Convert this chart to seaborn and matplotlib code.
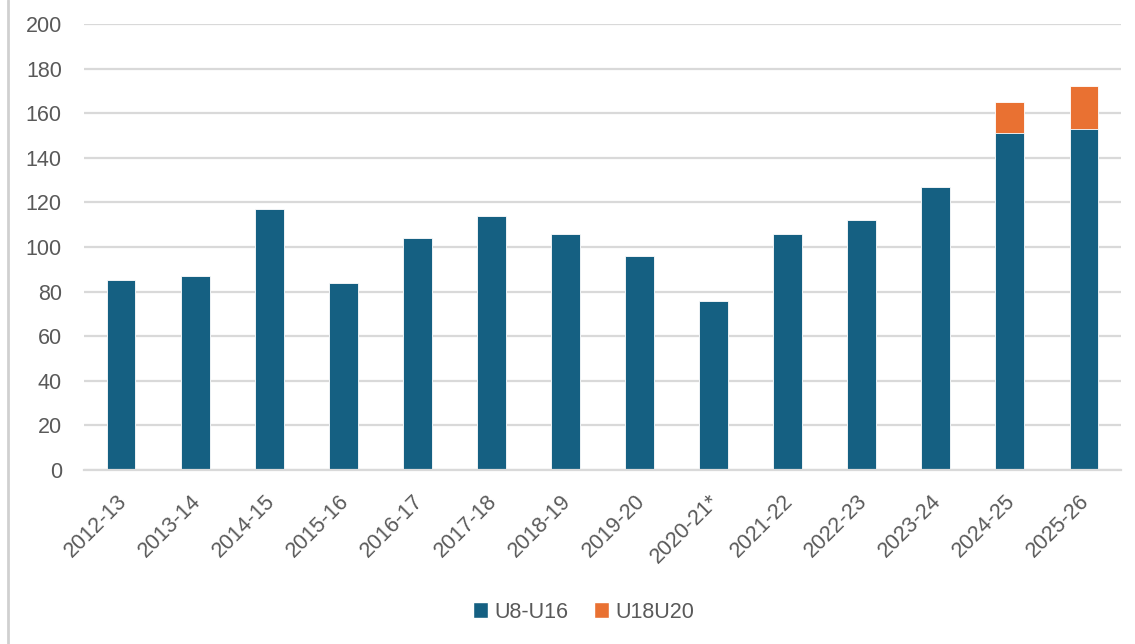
import matplotlib
matplotlib.use("Agg")
import matplotlib.pyplot as plt
from matplotlib.lines import Line2D
from matplotlib.patches import Patch
from matplotlib.transforms import ScaledTranslation
import numpy as np
import pandas as pd
import seaborn as sns

seasons = ["2012-13", "2013-14", "2014-15", "2015-16", "2016-17", "2017-18",
           "2018-19", "2019-20", "2020-21*", "2021-22", "2022-23", "2023-24",
           "2024-25", "2025-26"]
u8_u16 = [85, 87, 117, 84, 104, 114, 106, 96, 76, 106, 112, 127, 151, 153]
u18_u20 = [0, 0, 0, 0, 0, 0, 0, 0, 0, 0, 0, 0, 14, 19]
yticks = [0, 20, 40, 60, 80, 100, 120, 140, 160, 180, 200]

BLUE = "#156082"
ORANGE = "#E97132"
GRAY_TXT = "#595959"
GRID = "#D9D9D9"
FS = 15.5

sns.set_theme(style="white")
plt.rcParams["font.family"] = ["Liberation Sans", "DejaVu Sans"]

df = pd.DataFrame({"season": seasons, "u8": u8_u16, "u18": u18_u20})
df["total"] = df["u8"] + df["u18"]

fig = plt.figure(figsize=(11.35, 6.44), dpi=100)
ax = fig.add_axes([84 / 1135, 1 - 470 / 644, 1037 / 1135, 446 / 644])

sns.barplot(data=df, x="season", y="total", color=ORANGE, width=0.39,
            saturation=1, edgecolor="white", linewidth=0.6, ax=ax, zorder=3)
sns.barplot(data=df, x="season", y="u8", color=BLUE, width=0.39,
            saturation=1, edgecolor="white", linewidth=0.6, ax=ax, zorder=4)

ax.set_xlim(-0.5, len(seasons) - 0.5)
ax.set_ylim(0, 200)
ax.set_yticks(yticks)
ax.set_yticklabels([str(v) for v in yticks])
ax.yaxis.grid(True, color=GRID, linewidth=1.6, zorder=0)
ax.set_axisbelow(True)
for s in ["top", "right", "left"]:
    ax.spines[s].set_visible(False)
ax.spines["bottom"].set_color(GRID)
ax.spines["bottom"].set_linewidth(1.6)
ax.spines["bottom"].set_zorder(5)
ax.set_xlabel("")
ax.set_ylabel("")
ax.tick_params(axis="y", length=0, pad=16, labelsize=FS, labelcolor=GRAY_TXT)
ax.tick_params(axis="x", length=0, pad=15, labelsize=FS, labelcolor=GRAY_TXT)
shift = ScaledTranslation(-5 / 100, 0, fig.dpi_scale_trans)
for lab in ax.get_xticklabels():
    lab.set_rotation(45)
    lab.set_ha("right")
    lab.set_rotation_mode("anchor")
    lab.set_transform(lab.get_transform() + shift)

handles = [Patch(facecolor=BLUE, edgecolor="white", label="U8-U16"),
           Patch(facecolor=ORANGE, edgecolor="white", label="U18U20")]
fig.legend(handles=handles, loc="center", bbox_to_anchor=(0.514, 1 - 612 / 644),
           ncol=2, frameon=False, fontsize=FS, labelcolor=GRAY_TXT,
           handlelength=0.7, handleheight=0.7, handletextpad=0.3,
           columnspacing=1.2)

fig.add_artist(Line2D([8 / 1135, 8 / 1135], [0, 1], color="#D0D0D0",
                      linewidth=2, transform=fig.transFigure))

fig.savefig("out.png", dpi=100, facecolor="white")
